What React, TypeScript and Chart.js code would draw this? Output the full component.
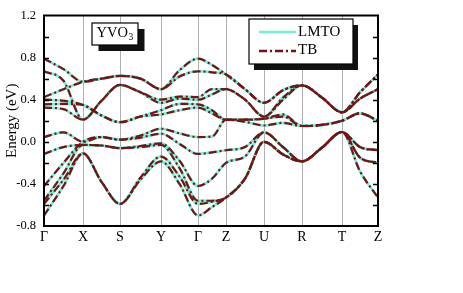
import React, { useEffect, useRef } from "react";
import { Chart, registerables } from "chart.js";

Chart.register(...registerables);

// High-symmetry points (path length in arbitrary units) and labels
const kLabels = ["Γ", "X", "S", "Y", "Γ", "Z", "U", "R", "T", "Z"];
const kSym = [0, 39, 76, 117, 154, 182, 220, 258, 298, 334];
// sampled k positions along the path (symmetry points + segment midpoints)
const kPath = [0, 19.5, 39, 57.5, 76, 96.5, 117, 135.5, 154, 168, 182, 201, 220, 239, 258, 278, 298, 316, 334];

const yTickValues = [-0.8, -0.4, 0, 0.4, 0.8, 1.2];
const yTickLabels = ["-0.8", "-0.4", "0.0", "0.4", "0.8", "1.2"];
const yMinorTicks = [-0.6, -0.4, -0.2, 0, 0.2, 0.4, 0.6, 0.8, 1.0];

// Band energies (eV) at kPath
const band1 = [0.79, 0.69, 0.57, 0.60, 0.626, 0.60, 0.50, 0.68, 0.79, 0.73, 0.64, 0.50, 0.37, 0.49, 0.537, 0.42, 0.28, 0.47, 0.64];
const band2 = [0.425, 0.50, 0.57, 0.60, 0.626, 0.60, 0.50, 0.62, 0.67, 0.66, 0.64, 0.50, 0.37, 0.49, 0.537, 0.42, 0.28, 0.47, 0.64];
const band3 = [0.67, 0.58, 0.21, 0.39, 0.54, 0.47, 0.40, 0.43, 0.425, 0.50, 0.50, 0.40, 0.24, 0.42, 0.537, 0.42, 0.28, 0.41, 0.50];
const band4 = [0.40, 0.39, 0.35, 0.25, 0.186, 0.24, 0.30, 0.36, 0.356, 0.30, 0.21, 0.21, 0.22, 0.26, 0.15, 0.16, 0.20, 0.27, 0.20];
const band5 = [0.356, 0.36, 0.35, 0.25, 0.186, 0.24, 0.26, 0.30, 0.325, 0.27, 0.21, 0.21, 0.22, 0.24, 0.15, 0.16, 0.20, 0.27, 0.20];
const band6 = [0.325, 0.31, 0.21, 0.39, 0.54, 0.47, 0.37, 0.41, 0.40, 0.45, 0.50, 0.40, 0.24, 0.40, 0.537, 0.42, 0.28, 0.41, 0.50];
const band7 = [0.045, 0.09, 0.0, 0.045, 0.02, 0.06, 0.124, 0.08, 0.045, 0.05, 0.21, 0.19, 0.155, 0.18, 0.15, 0.16, 0.20, 0.27, 0.20];
const band8 = [-0.115, -0.05, -0.03, -0.035, -0.06, -0.04, -0.015, -0.18, -0.42, -0.35, -0.20, -0.14, 0.09, -0.05, -0.186, -0.055, 0.093, -0.05, -0.08];
const band9 = [-0.42, -0.20, 0.0, 0.045, 0.02, 0.04, 0.077, -0.02, -0.115, -0.10, -0.08, -0.05, 0.09, -0.05, -0.186, -0.055, 0.093, -0.05, -0.08];
const band10 = [-0.56, -0.30, -0.03, -0.035, -0.06, -0.05, -0.03, -0.25, -0.56, -0.56, -0.53, -0.35, 0.0, -0.12, -0.186, -0.055, 0.093, -0.15, -0.20];
const band11 = [-0.59, -0.36, -0.11, -0.38, -0.59, -0.34, -0.14, -0.33, -0.59, -0.57, -0.53, -0.35, 0.0, -0.12, -0.186, -0.055, 0.093, -0.15, -0.20];
const band12 = [-0.70, -0.42, -0.11, -0.38, -0.59, -0.36, -0.186, -0.40, -0.70, -0.62, -0.53, -0.35, 0.0, -0.12, -0.186, -0.055, 0.093, -0.28, -0.53];

const bands = [band1, band2, band3, band4, band5, band6, band7, band8, band9, band10, band11, band12];

const LMTO_COLOR = "#6ff2d6";
const TB_COLOR = "#7a1214";
const TB_DASH = [8, 3, 2, 3];
const FONT = "'Liberation Serif', 'DejaVu Serif', serif";

const overlayPlugin = {
  id: "overlay",
  afterDraw(chart: any) {
    const { ctx, chartArea } = chart;
    const { left, right, top, bottom } = chartArea;
    const yScale = chart.scales.y;
    ctx.save();
    // inward ticks
    ctx.strokeStyle = "#000";
    ctx.lineWidth = 1.5;
    yMinorTicks.forEach((v) => {
      const y = Math.round(yScale.getPixelForValue(v)) + 0.5;
      ctx.beginPath();
      ctx.moveTo(left, y);
      ctx.lineTo(left + 5, y);
      ctx.moveTo(right, y);
      ctx.lineTo(right - 5, y);
      ctx.stroke();
    });
    // frame
    ctx.lineWidth = 2;
    ctx.strokeRect(left, top, right - left, bottom - top);

    // YVO3 box
    const bx = 92, by = 23, bw = 46, bh = 22;
    ctx.fillStyle = "#111";
    ctx.fillRect(bx + 6.5, by + 6, bw, bh);
    ctx.fillStyle = "#fff";
    ctx.fillRect(bx, by, bw, bh);
    ctx.lineWidth = 1.2;
    ctx.strokeStyle = "#000";
    ctx.strokeRect(bx, by, bw, bh);
    ctx.fillStyle = "#000";
    ctx.font = `14.5px ${FONT}`;
    ctx.textBaseline = "alphabetic";
    ctx.textAlign = "left";
    ctx.fillText("YVO", 96.5, 36.5);
    const w = ctx.measureText("YVO").width;
    ctx.font = `9.5px ${FONT}`;
    ctx.fillText("3", 96.5 + w + 0.5, 40);

    // legend box
    const lx = 249, ly = 19, lw = 104, lh = 45;
    ctx.fillStyle = "#111";
    ctx.fillRect(lx + 5, ly + 6, lw, lh);
    ctx.fillStyle = "#fff";
    ctx.fillRect(lx, ly, lw, lh);
    ctx.strokeStyle = "#000";
    ctx.lineWidth = 1.2;
    ctx.strokeRect(lx, ly, lw, lh);
    // LMTO item
    ctx.strokeStyle = LMTO_COLOR;
    ctx.lineWidth = 2.5;
    ctx.beginPath();
    ctx.moveTo(259, 32);
    ctx.lineTo(296, 32);
    ctx.stroke();
    // TB item
    ctx.strokeStyle = TB_COLOR;
    ctx.setLineDash(TB_DASH);
    ctx.beginPath();
    ctx.moveTo(259, 51);
    ctx.lineTo(296, 51);
    ctx.stroke();
    ctx.setLineDash([]);
    ctx.fillStyle = "#000";
    ctx.font = `15px ${FONT}`;
    ctx.textBaseline = "middle";
    ctx.fillText("LMTO", 298, 32.5);
    ctx.fillText("TB", 298, 50.5);
    ctx.restore();
  },
};

export default function App() {
  const ref = useRef<HTMLCanvasElement | null>(null);
  useEffect(() => {
    if (!ref.current) return;
    Chart.defaults.font.family = FONT;
    const datasets: any[] = [];
    bands.forEach((b, bi) => {
      const pts = kPath.map((x, i) => ({ x, y: b[i] }));
      datasets.push({
        label: bi === 0 ? "TB" : "",
        data: pts,
        borderColor: TB_COLOR,
        borderWidth: 2.2,
        borderDash: TB_DASH,
        pointRadius: 0,
        fill: false,
        cubicInterpolationMode: "monotone",
        tension: 0.4,
        order: 0,
      });
      datasets.push({
        label: bi === 0 ? "LMTO" : "",
        data: pts,
        borderColor: LMTO_COLOR,
        borderWidth: 2.6,
        pointRadius: 0,
        fill: false,
        cubicInterpolationMode: "monotone",
        tension: 0.4,
        order: 1,
      });
    });
    const chart = new Chart(ref.current, {
      type: "line",
      data: { datasets },
      options: {
        responsive: false,
        animation: false,
        devicePixelRatio: 1,
        layout: { padding: { left: 0, right: 85, top: 11, bottom: 0 } },
        plugins: { legend: { display: false }, tooltip: { enabled: false } },
        scales: {
          x: {
            type: "linear",
            min: kSym[0],
            max: kSym[kSym.length - 1],
            afterFit: (s: any) => {
              s.height = 67;
            },
            afterBuildTicks: (s: any) => {
              s.ticks = kSym.map((v) => ({ value: v }));
            },
            ticks: {
              callback: (_v: any, i: number) => kLabels[i],
              font: { size: 14, family: FONT },
              color: "#000",
              padding: 3,
              autoSkip: false,
              maxRotation: 0,
            },
            grid: { color: "#b0b0b0", lineWidth: 1, drawTicks: false },
            border: { display: false },
          },
          y: {
            type: "linear",
            min: -0.8,
            max: 1.2,
            afterFit: (s: any) => {
              s.width = 44;
            },
            afterBuildTicks: (s: any) => {
              s.ticks = yTickValues.map((v) => ({ value: v }));
            },
            ticks: {
              callback: (_v: any, i: number) => yTickLabels[i],
              font: { size: 12.5, family: FONT },
              color: "#000",
              padding: 8,
            },
            grid: { display: false, drawTicks: false },
            border: { display: false },
            title: {
              display: true,
              text: "Energy (eV)",
              font: { size: 15, family: FONT },
              color: "#000",
              padding: { top: 3.5, bottom: 0 },
            },
          },
        },
      },
      plugins: [overlayPlugin],
    });
    return () => chart.destroy();
  }, []);
  return (
    <div style={{ position: "fixed", left: 0, top: 0, width: 463, height: 293, background: "#fff" }}>
      <canvas ref={ref} width={463} height={293} style={{ width: 463, height: 293, display: "block" }} />
    </div>
  );
}
